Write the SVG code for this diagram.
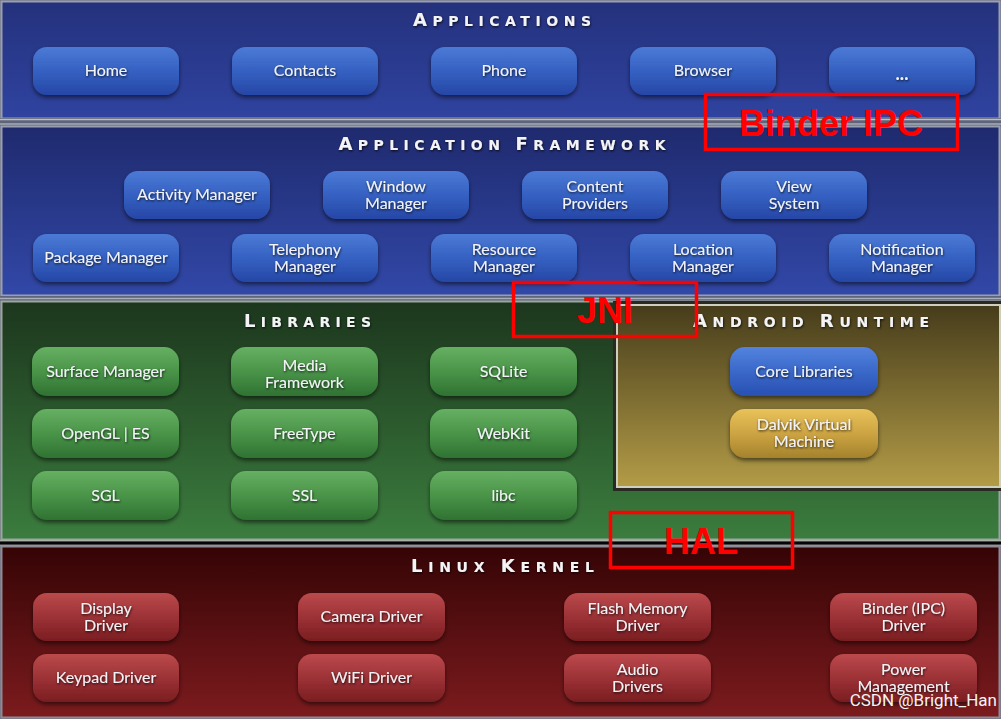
<svg xmlns="http://www.w3.org/2000/svg" width="1001" height="719" viewBox="0 0 1001 719">
<defs>
<linearGradient id="gApps" x1="0" y1="0" x2="0" y2="1"><stop offset="0" stop-color="#24317c"/><stop offset="1" stop-color="#2f43a0"/></linearGradient>
<linearGradient id="gFw" x1="0" y1="0" x2="0" y2="1"><stop offset="0" stop-color="#1f2a6e"/><stop offset="1" stop-color="#3248a8"/></linearGradient>
<linearGradient id="gLib" x1="0" y1="0" x2="0" y2="1"><stop offset="0" stop-color="#1c361d"/><stop offset="1" stop-color="#3b7d3e"/></linearGradient>
<linearGradient id="gRt" x1="0" y1="0" x2="0" y2="1"><stop offset="0" stop-color="#463c1b"/><stop offset="1" stop-color="#b39c47"/></linearGradient>
<linearGradient id="gKer" x1="0" y1="0" x2="0" y2="1"><stop offset="0" stop-color="#350405"/><stop offset="1" stop-color="#7c1b1e"/></linearGradient>
<linearGradient id="bBlue" x1="0" y1="0" x2="0" y2="1"><stop offset="0" stop-color="#4c7ad6"/><stop offset="0.5" stop-color="#3561c2"/><stop offset="1" stop-color="#2647a6"/></linearGradient>
<linearGradient id="bGreen" x1="0" y1="0" x2="0" y2="1"><stop offset="0" stop-color="#66b062"/><stop offset="0.5" stop-color="#4a9449"/><stop offset="1" stop-color="#2f7232"/></linearGradient>
<linearGradient id="bRed" x1="0" y1="0" x2="0" y2="1"><stop offset="0" stop-color="#bb4a4c"/><stop offset="0.5" stop-color="#9c3236"/><stop offset="1" stop-color="#7a1d21"/></linearGradient>
<linearGradient id="bCore" x1="0" y1="0" x2="0" y2="1"><stop offset="0" stop-color="#5383de"/><stop offset="0.5" stop-color="#3a68c9"/><stop offset="1" stop-color="#2850b2"/></linearGradient>
<linearGradient id="bGold" x1="0" y1="0" x2="0" y2="1"><stop offset="0" stop-color="#e9c25a"/><stop offset="0.5" stop-color="#cda443"/><stop offset="1" stop-color="#a4822c"/></linearGradient>
<filter id="sh" x="-10%" y="-20%" width="120%" height="150%"><feDropShadow dx="0" dy="2.5" stdDeviation="2" flood-color="#000" flood-opacity="0.55"/></filter>
<filter id="tsh" x="-10%" y="-30%" width="120%" height="160%"><feDropShadow dx="0.6" dy="1.2" stdDeviation="0.8" flood-color="#000" flood-opacity="0.8"/></filter>
</defs>
<style>
.box{stroke:none;filter:url(#sh)}
.blue{fill:url(#bBlue)}
.green{fill:url(#bGreen)}
.red{fill:url(#bRed)}
.core{fill:url(#bCore)}
.gold{fill:url(#bGold)}
.t{font-family:Lato,"Open Sans","DejaVu Sans",sans-serif;font-size:16px;fill:#f2f3f7;text-anchor:middle;filter:url(#tsh)}
.h{font-family:"DejaVu Sans",Lato,sans-serif;font-weight:bold;fill:#f4f4f6;text-anchor:middle;filter:url(#tsh)}
.big{font-size:18px}
.sm{font-size:14px}
.ann{fill:none;stroke:#ff0000;stroke-width:3.5}
.annt{font-family:"Liberation Sans",Arial,sans-serif;font-weight:bold;font-size:36px;fill:#ff0000;text-anchor:middle}
.sep{fill:#5f6578}
</style>

<!-- layer backgrounds -->
<g id="layers">
<rect x="0" y="0" width="1001" height="719" fill="#6a6f80"/>
<rect x="1.5" y="1.5" width="998" height="117" fill="url(#gApps)" stroke="#9a9fb0" stroke-width="2"/>
<rect x="0" y="118" width="1001" height="9" class="sep"/>
<line x1="0" y1="119.5" x2="1001" y2="119.5" stroke="#b9bdcc" stroke-width="1.5"/>
<line x1="0" y1="124" x2="1001" y2="124" stroke="#a7acbc" stroke-width="1.5"/>
<rect x="1.5" y="126.5" width="998" height="169" fill="url(#gFw)" stroke="#9a9fb0" stroke-width="2"/>
<rect x="0" y="296" width="1001" height="5" class="sep"/>
<line x1="0" y1="298.5" x2="1001" y2="298.5" stroke="#a9aebb" stroke-width="1.5"/>
<rect x="1.5" y="301.5" width="998" height="238" fill="url(#gLib)" stroke="#9aa6a0" stroke-width="2"/>
<rect x="0" y="540" width="1001" height="6" fill="#2a2a2a"/>
<line x1="0" y1="540.5" x2="1001" y2="540.5" stroke="#a8b0a8" stroke-width="1.5"/>
<line x1="0" y1="543" x2="1001" y2="543" stroke="#050505" stroke-width="2"/>
<line x1="0" y1="545.5" x2="1001" y2="545.5" stroke="#9a9aa6" stroke-width="1.5"/>
<rect x="1.5" y="546.5" width="998" height="171" fill="url(#gKer)" stroke="#8e8a96" stroke-width="2"/>
<rect x="614.5" y="302.5" width="386" height="187" fill="none" stroke="#2a2a22" stroke-width="3"/>
<rect x="617" y="305" width="383" height="182" fill="url(#gRt)" stroke="#cfcfc0" stroke-width="2"/>
</g>

<!-- headings -->
<g id="headings">
<text class="h" x="502" y="26" textLength="178" lengthAdjust="spacing"><tspan class="big">A</tspan><tspan class="sm">PPLICATIONS</tspan></text>
<text class="h" x="502" y="150" textLength="327" lengthAdjust="spacing"><tspan class="big">A</tspan><tspan class="sm">PPLICATION </tspan><tspan class="big">F</tspan><tspan class="sm">RAMEWORK</tspan></text>
<text class="h" x="307.5" y="327" textLength="127" lengthAdjust="spacing"><tspan class="big">L</tspan><tspan class="sm">IBRARIES</tspan></text>
<text class="h" x="811" y="327" textLength="236" lengthAdjust="spacing"><tspan class="big">A</tspan><tspan class="sm">NDROID </tspan><tspan class="big">R</tspan><tspan class="sm">UNTIME</tspan></text>
<text class="h" x="502.5" y="572" textLength="183" lengthAdjust="spacing"><tspan class="big">L</tspan><tspan class="sm">INUX </tspan><tspan class="big">K</tspan><tspan class="sm">ERNEL</tspan></text>
</g>

<!-- Applications -->
<g id="app-home"><rect class="box blue" x="33" y="47" width="146" height="48" rx="14"/><text class="t" x="106" y="76">Home</text></g>
<g id="app-contacts"><rect class="box blue" x="232" y="47" width="146" height="48" rx="14"/><text class="t" x="305" y="76">Contacts</text></g>
<g id="app-phone"><rect class="box blue" x="431" y="47" width="146" height="48" rx="14"/><text class="t" x="504" y="76">Phone</text></g>
<g id="app-browser"><rect class="box blue" x="630" y="47" width="146" height="48" rx="14"/><text class="t" x="703" y="76">Browser</text></g>
<g id="app-more"><rect class="box blue" x="829" y="47" width="146" height="48" rx="14"/><text class="t" x="902" y="80" style="font-weight:bold;font-size:18px">...</text></g>

<!-- Application Framework -->
<g id="fw-activity"><rect class="box blue" x="124" y="171" width="146" height="48" rx="14"/><text class="t" x="197" y="200">Activity Manager</text></g>
<g id="fw-window"><rect class="box blue" x="323" y="171" width="146" height="48" rx="14"/><text class="t" x="396" y="192">Window</text><text class="t" x="396" y="209">Manager</text></g>
<g id="fw-content"><rect class="box blue" x="522" y="171" width="146" height="48" rx="14"/><text class="t" x="595" y="192">Content</text><text class="t" x="595" y="209">Providers</text></g>
<g id="fw-view"><rect class="box blue" x="721" y="171" width="146" height="48" rx="14"/><text class="t" x="794" y="192">View</text><text class="t" x="794" y="209">System</text></g>
<g id="fw-package"><rect class="box blue" x="33" y="234" width="146" height="48" rx="14"/><text class="t" x="106" y="263">Package Manager</text></g>
<g id="fw-telephony"><rect class="box blue" x="232" y="234" width="146" height="48" rx="14"/><text class="t" x="305" y="255">Telephony</text><text class="t" x="305" y="272">Manager</text></g>
<g id="fw-resource"><rect class="box blue" x="431" y="234" width="146" height="48" rx="14"/><text class="t" x="504" y="255">Resource</text><text class="t" x="504" y="272">Manager</text></g>
<g id="fw-location"><rect class="box blue" x="630" y="234" width="146" height="48" rx="14"/><text class="t" x="703" y="255">Location</text><text class="t" x="703" y="272">Manager</text></g>
<g id="fw-notification"><rect class="box blue" x="829" y="234" width="146" height="48" rx="14"/><text class="t" x="902" y="255">Notification</text><text class="t" x="902" y="272">Manager</text></g>

<!-- Libraries -->
<g id="lib-surface"><rect class="box green" x="32" y="347" width="147" height="49" rx="15"/><text class="t" x="105.5" y="377">Surface Manager</text></g>
<g id="lib-media"><rect class="box green" x="231" y="347" width="147" height="49" rx="15"/><text class="t" x="304.5" y="371">Media</text><text class="t" x="304.5" y="388">Framework</text></g>
<g id="lib-sqlite"><rect class="box green" x="430" y="347" width="147" height="49" rx="15"/><text class="t" x="503.5" y="377">SQLite</text></g>
<g id="lib-opengl"><rect class="box green" x="32" y="409" width="147" height="49" rx="15"/><text class="t" x="105.5" y="439">OpenGL | ES</text></g>
<g id="lib-freetype"><rect class="box green" x="231" y="409" width="147" height="49" rx="15"/><text class="t" x="304.5" y="439">FreeType</text></g>
<g id="lib-webkit"><rect class="box green" x="430" y="409" width="147" height="49" rx="15"/><text class="t" x="503.5" y="439">WebKit</text></g>
<g id="lib-sgl"><rect class="box green" x="32" y="471" width="147" height="49" rx="15"/><text class="t" x="105.5" y="501">SGL</text></g>
<g id="lib-ssl"><rect class="box green" x="231" y="471" width="147" height="49" rx="15"/><text class="t" x="304.5" y="501">SSL</text></g>
<g id="lib-libc"><rect class="box green" x="430" y="471" width="147" height="49" rx="15"/><text class="t" x="503.5" y="501">libc</text></g>

<!-- Android Runtime -->
<g id="rt-core"><rect class="box core" x="730" y="347" width="148" height="49" rx="15"/><text class="t" x="804" y="377">Core Libraries</text></g>
<g id="rt-dalvik"><rect class="box gold" x="730" y="409" width="148" height="49" rx="15"/><text class="t" x="804" y="430">Dalvik Virtual</text><text class="t" x="804" y="447">Machine</text></g>

<!-- Linux Kernel -->
<g id="k-display"><rect class="box red" x="33" y="593" width="146" height="48" rx="14"/><text class="t" x="106" y="614">Display</text><text class="t" x="106" y="631">Driver</text></g>
<g id="k-camera"><rect class="box red" x="298" y="593" width="147" height="48" rx="14"/><text class="t" x="371.5" y="622">Camera Driver</text></g>
<g id="k-flash"><rect class="box red" x="564" y="593" width="147" height="48" rx="14"/><text class="t" x="637.5" y="614">Flash Memory</text><text class="t" x="637.5" y="631">Driver</text></g>
<g id="k-binder"><rect class="box red" x="830" y="593" width="147" height="48" rx="14"/><text class="t" x="903.5" y="614">Binder (IPC)</text><text class="t" x="903.5" y="631">Driver</text></g>
<g id="k-keypad"><rect class="box red" x="33" y="654" width="146" height="48" rx="14"/><text class="t" x="106" y="683">Keypad Driver</text></g>
<g id="k-wifi"><rect class="box red" x="298" y="654" width="147" height="48" rx="14"/><text class="t" x="371.5" y="683">WiFi Driver</text></g>
<g id="k-audio"><rect class="box red" x="564" y="654" width="147" height="48" rx="14"/><text class="t" x="637.5" y="675">Audio</text><text class="t" x="637.5" y="692">Drivers</text></g>
<g id="k-power"><rect class="box red" x="830" y="654" width="147" height="48" rx="14"/><text class="t" x="903.5" y="675">Power</text><text class="t" x="903.5" y="692">Management</text></g>

<!-- red annotations -->
<g id="ann-binder"><rect class="ann" x="705.5" y="94.5" width="252" height="55"/><text class="annt" x="831" y="136">Binder IPC</text></g>
<g id="ann-jni"><rect class="ann" x="513.5" y="282.5" width="183" height="54"/><text class="annt" x="605" y="323">JNI</text></g>
<g id="ann-hal"><rect class="ann" x="610.5" y="512.5" width="182" height="55"/><text class="annt" x="701" y="554">HAL</text></g>

<g id="connectors"></g>

<text x="997" y="706" font-family="Roboto,'DejaVu Sans',sans-serif" font-size="17" fill="#f4f4f4" text-anchor="end">CSDN @Bright_Han</text>
</svg>
